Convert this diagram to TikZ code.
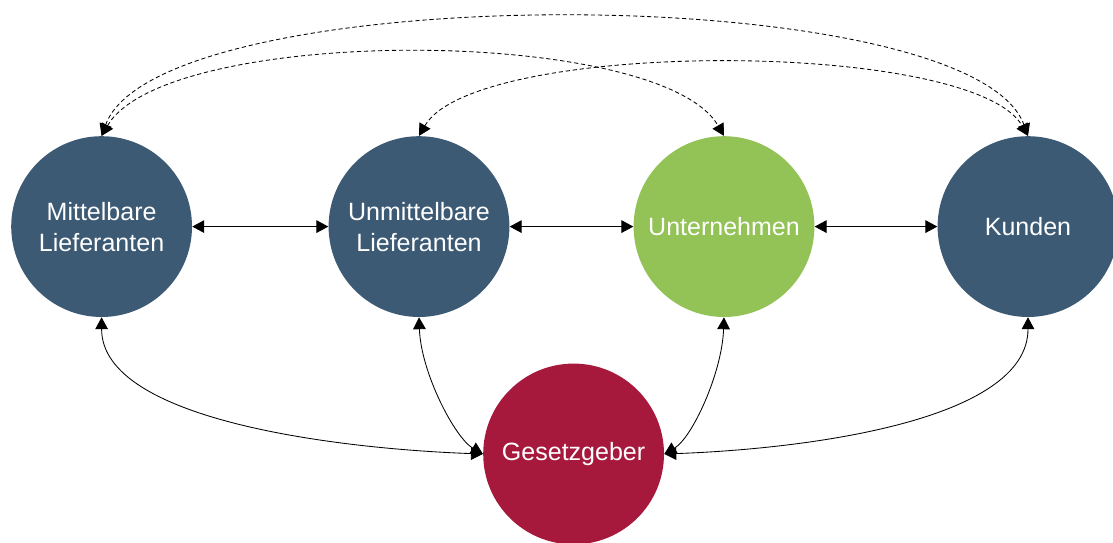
\documentclass[tikz,border=0pt]{standalone}
\usepackage{fontspec}
\setmainfont{Liberation Sans}
\usetikzlibrary{arrows.meta}
\definecolor{slateblue}{HTML}{3D5A75}
\definecolor{leafgreen}{HTML}{93C256}
\definecolor{wine}{HTML}{A6193C}

\begin{document}
\begin{tikzpicture}
    [
    party/.style={circle,fill=#1,text=white,inner sep=0pt,minimum size=4.52cm,align=center,font=\fontsize{17.8}{22}\selectfont},
    link/.style={line width=0.6pt,{Triangle[length=8.5pt,width=9pt]}-{Triangle[length=8.5pt,width=9pt]}},
    hint/.style={link,dash pattern=on 3pt off 2pt},
    ]
    \useasboundingbox (0,0) rectangle (27.825,13.575);
    \node (mit) at (2.54,7.91) [party=slateblue] {Mittelbare\\Lieferanten};
    \node (unm) at (10.475,7.91) [party=slateblue] {Unmittelbare\\Lieferanten};
    \node (unt) at (18.1,7.91) [party=leafgreen] {Unternehmen};
    \node (kun) at (25.7,7.91) [party=slateblue] {Kunden};
    \node (ges) at (14.34,2.225) [party=wine] {Gesetzgeber};

    \draw [link] (mit) to (unm);
    \draw [link] (unm) to (unt);
    \draw [link] (unt) to (kun);

    \draw [hint] (mit.north) to[out=70,in=110,distance=4.2cm] (kun.north);
    \draw [hint] (mit.north) to[out=60,in=120,distance=3.2cm] (unt.north);
    \draw [hint] (unm.north) to[out=60,in=120,distance=2.8cm] (kun.north);

    \draw [link] (mit.south) to[out=-90,in=178,out distance=2.6cm,in distance=3.5cm] (ges.west);
    \draw [link] (unm.south) to[out=-88,in=150,out distance=1.4cm,in distance=0.8cm] (ges.west);
    \draw [link] (unt.south) to[out=-92,in=30,out distance=1.4cm,in distance=0.8cm] (ges.east);
    \draw [link] (kun.south) to[out=-90,in=2,out distance=2.6cm,in distance=3.5cm] (ges.east);
\end{tikzpicture}
\end{document}
